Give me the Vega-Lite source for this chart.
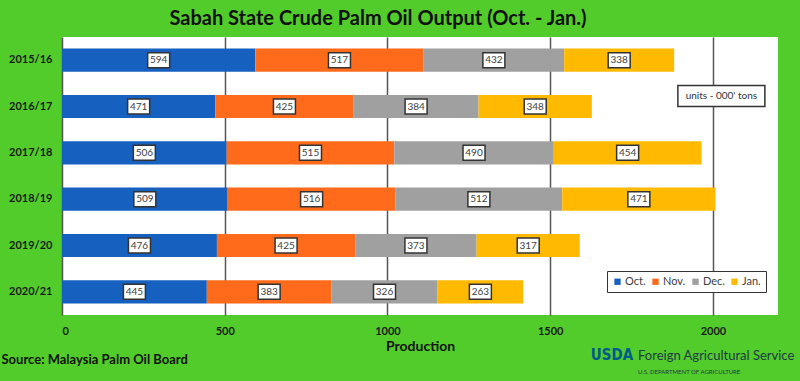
{
  "$schema": "https://vega.github.io/schema/vega-lite/v6.json",
  "autosize": "none",
  "width": 716,
  "height": 278,
  "padding": {"left": 62, "top": 37, "right": 22, "bottom": 66},
  "background": "#52CC2A",
  "config": {
    "view": {"fill": "white", "stroke": null},
    "font": "Lato"
  },
  "title": {
    "text": "Sabah State Crude Palm Oil Output (Oct. - Jan.)",
    "font": "Lato",
    "fontSize": 20,
    "fontWeight": "bold",
    "color": "#111111",
    "anchor": "middle",
    "dx": -42,
    "offset": 8
  },
  "datasets": {
    "bars": [
      {"year": "2015/16", "month": "Oct.", "value": 594},
      {"year": "2015/16", "month": "Nov.", "value": 517},
      {"year": "2015/16", "month": "Dec.", "value": 432},
      {"year": "2015/16", "month": "Jan.", "value": 338},
      {"year": "2016/17", "month": "Oct.", "value": 471},
      {"year": "2016/17", "month": "Nov.", "value": 425},
      {"year": "2016/17", "month": "Dec.", "value": 384},
      {"year": "2016/17", "month": "Jan.", "value": 348},
      {"year": "2017/18", "month": "Oct.", "value": 506},
      {"year": "2017/18", "month": "Nov.", "value": 515},
      {"year": "2017/18", "month": "Dec.", "value": 490},
      {"year": "2017/18", "month": "Jan.", "value": 454},
      {"year": "2018/19", "month": "Oct.", "value": 509},
      {"year": "2018/19", "month": "Nov.", "value": 516},
      {"year": "2018/19", "month": "Dec.", "value": 512},
      {"year": "2018/19", "month": "Jan.", "value": 471},
      {"year": "2019/20", "month": "Oct.", "value": 476},
      {"year": "2019/20", "month": "Nov.", "value": 425},
      {"year": "2019/20", "month": "Dec.", "value": 373},
      {"year": "2019/20", "month": "Jan.", "value": 317},
      {"year": "2020/21", "month": "Oct.", "value": 445},
      {"year": "2020/21", "month": "Nov.", "value": 383},
      {"year": "2020/21", "month": "Dec.", "value": 326},
      {"year": "2020/21", "month": "Jan.", "value": 263}
    ]
  },
  "layer": [
    {
      "data": {"name": "bars"},
      "transform": [
        {"calculate": "indexof(['Oct.','Nov.','Dec.','Jan.'], datum.month)", "as": "ord"},
        {"stack": "value", "groupby": ["year"], "sort": [{"field": "ord", "order": "ascending"}], "as": ["x0", "x1"]},
        {"calculate": "(datum.x0 + datum.x1) / 2", "as": "mid"}
      ],
      "encoding": {
        "y": {
          "field": "year",
          "type": "nominal",
          "sort": ["2015/16", "2016/17", "2017/18", "2018/19", "2019/20", "2020/21"],
          "scale": {"paddingInner": 0.5, "paddingOuter": 0.25},
          "axis": {
            "title": null,
            "ticks": false,
            "domain": false,
            "labelPadding": 10,
            "labelFont": "Lato",
            "labelFontSize": 11,
            "labelFontWeight": "bold",
            "labelColor": "#1a1a1a"
          }
        }
      },
      "layer": [
        {
          "mark": {"type": "bar"},
          "encoding": {
            "x": {
              "field": "x0",
              "type": "quantitative",
              "scale": {"domain": [0, 2200], "nice": false},
              "axis": {
                "values": [0, 500, 1000, 1500, 2000],
                "format": "d",
                "grid": true,
                "gridColor": "#555555",
                "gridWidth": 1.5,
                "ticks": false,
                "domain": false,
                "labelPadding": 10,
                "labelFont": "Lato",
                "labelFontSize": 11,
                "labelFontWeight": "bold",
                "labelColor": "#1a1a1a",
                "title": "Production",
                "titleFont": "Lato",
                "titleFontSize": 14,
                "titleFontWeight": "bold",
                "titleColor": "#111111",
                "titlePadding": 3
              }
            },
            "x2": {"field": "x1"},
            "color": {
              "field": "month",
              "type": "nominal",
              "scale": {
                "domain": ["Oct.", "Nov.", "Dec.", "Jan."],
                "range": ["#1660C0", "#FF6B1A", "#A0A0A0", "#FFBA00"]
              },
              "legend": {
                "orient": "none",
                "legendX": 545,
                "legendY": 234,
                "direction": "horizontal",
                "title": null,
                "strokeColor": "#333333",
                "fillColor": "white",
                "padding": 5,
                "symbolType": "square",
                "symbolSize": 40,
                "symbolStrokeWidth": 0,
                "labelFont": "Lato",
                "labelFontSize": 11,
                "labelColor": "#404040",
                "columnPadding": 4,
                "labelOffset": 2
              }
            }
          }
        },
        {
          "mark": {
            "type": "point",
            "shape": "M-1,-0.682H1V0.682H-1Z",
            "filled": false,
            "fill": "white",
            "fillOpacity": 1,
            "stroke": "#333333",
            "strokeWidth": 1.5,
            "opacity": 1,
            "size": 484
          },
          "encoding": {
            "x": {"field": "mid", "type": "quantitative"}
          }
        },
        {
          "mark": {"type": "text", "font": "Lato", "fontSize": 10, "color": "#404040", "baseline": "middle", "align": "center"},
          "encoding": {
            "x": {"field": "mid", "type": "quantitative"},
            "text": {"field": "value", "type": "quantitative"}
          }
        }
      ]
    },
    {
      "data": {"values": [{"label": "units - 000' tons"}]},
      "layer": [
        {
          "mark": {
            "type": "point",
            "shape": "M-1,-0.2414H1V0.2414H-1Z",
            "filled": false,
            "fill": "white",
            "fillOpacity": 1,
            "stroke": "#333333",
            "strokeWidth": 1.5,
            "opacity": 1,
            "size": 7569
          },
          "encoding": {
            "x": {"datum": 2026, "type": "quantitative"},
            "y": {"datum": "2016/17", "type": "nominal"},
            "yOffset": {"value": 1}
          }
        },
        {
          "mark": {"type": "text", "font": "Lato", "fontSize": 10, "color": "#333333", "align": "center", "baseline": "middle"},
          "encoding": {
            "x": {"datum": 2026, "type": "quantitative"},
            "y": {"datum": "2016/17", "type": "nominal"},
            "yOffset": {"value": 1},
            "text": {"field": "label"}
          }
        }
      ]
    },
    {
      "data": {"values": [{"label": "Source: Malaysia Palm Oil Board", "pos": -186}]},
      "mark": {"type": "text", "font": "Lato", "fontSize": 13, "fontWeight": "bold", "color": "#111111", "align": "left", "baseline": "middle"},
      "encoding": {
        "x": {"field": "pos", "type": "quantitative"},
        "y": {"datum": "2020/21", "type": "nominal"},
        "yOffset": {"value": 80},
        "text": {"field": "label"}
      }
    },
    {
      "data": {"values": [{"label": "USDA", "pos": 1625}]},
      "mark": {"type": "text", "font": "DejaVu Sans Condensed", "fontSize": 15, "fontWeight": "bold", "color": "#005A8C", "align": "left", "baseline": "middle"},
      "encoding": {
        "x": {"field": "pos", "type": "quantitative"},
        "y": {"datum": "2020/21", "type": "nominal"},
        "yOffset": {"value": 75},
        "text": {"field": "label"}
      }
    },
    {
      "data": {"values": [{"label": "Foreign Agricultural Service", "pos": 1770}]},
      "mark": {"type": "text", "font": "Lato", "fontSize": 13, "color": "#1E3A46", "align": "left", "baseline": "middle"},
      "encoding": {
        "x": {"field": "pos", "type": "quantitative"},
        "y": {"datum": "2020/21", "type": "nominal"},
        "yOffset": {"value": 76},
        "text": {"field": "label"}
      }
    },
    {
      "data": {"values": [{"label": "U.S. DEPARTMENT OF AGRICULTURE", "pos": 1770}]},
      "mark": {"type": "text", "font": "Lato", "fontSize": 6, "color": "#1E3A46", "align": "left", "baseline": "middle"},
      "encoding": {
        "x": {"field": "pos", "type": "quantitative"},
        "y": {"datum": "2020/21", "type": "nominal"},
        "yOffset": {"value": 92},
        "text": {"field": "label"}
      }
    }
  ]
}
